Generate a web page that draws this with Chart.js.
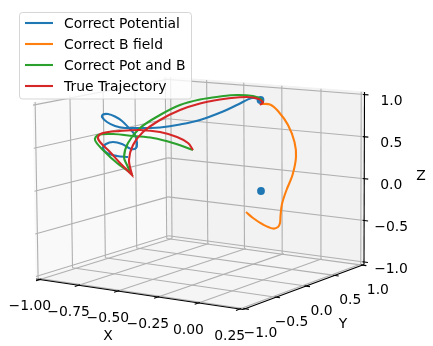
<!DOCTYPE html>
<html>
<head>
<meta charset="utf-8">
<script src="https://cdn.jsdelivr.net/npm/chart.js@4"></script>
<style>
  html, body { margin: 0; padding: 0; background: #fff; }
  canvas { display: block; }
</style>
</head>
<body>
<canvas id="chart" width="433" height="346"></canvas>
<script>
// Curves
var potentialX = [261,252,238,223,200,180,160,148,136,125,115,107,102,103,108,115,122,128,135,137,136,131,122,113,106,103,107,117,128];
var potentialY = [99,98,104.5,111.5,120,124.5,127.5,128,128,128,126,122,117,114.5,114,116.5,121,127,135,143,148,149,144,142,144,148,153,156,157];
var bfieldX = [261,270,278,288,294.5,296,292.5,286.5,282,280.5,280,278,273,263,253,246];
var bfieldY = [104,104.5,111,125,142,157,175,190,204,216,223,227,228.5,224.5,218,212];
var potBX = [263,261,253,237,220,200,180,160,140,128,124,127,131,131,117,103,95,98,113,133,153,173,193];
var potBY = [103,99,96,95,96.5,99.5,105,115,128,143,157,165,173,173,163,150,140,135,134,136,138,143,150];
var trueX = [260,263,253,237,220,200,180,160,143,133,129,132,132,120,110,100,98,103,120,140,160,177,188,193];
var trueY = [105,102,97.5,97.5,99.5,103.5,110,120,132,145,160,175,175,163,152,142,137,133,131,130,132,137,143,150];
var startX = [260.5,261];
var startY = [100,191];

var seriesNames = ['Correct Potential', 'Correct B field', 'Correct Pot and B', 'True Trajectory'];

var xTicks = [-1, -0.75, -0.5, -0.25, 0, 0.25];
var xTickLabels = ['\u22121.00', '\u22120.75', '\u22120.50', '\u22120.25', '0.00', '0.25'];
var yTicks = [-1, -0.5, 0, 0.5, 1];
var yTickLabels = ['\u22121.0', '\u22120.5', '0.0', '0.5', '1.0'];
var zTicks = [-1, -0.5, 0, 0.5, 1];
var zTickLabels = ['\u22121.0', '\u22120.5', '0.0', '0.5', '1.0'];

var BLUE = '#1f77b4', ORANGE = '#ff7f0e', GREEN = '#2ca02c', RED = '#d62728';
var FONT = '13.9px "DejaVu Sans"';
var GRID = '#b0b0b0';

function pts(xs, ys) {
  return xs.map(function (x, i) { return { x: x, y: ys[i] }; });
}

function line(name, xs, ys, color, order) {
  return {
    label: name, data: pts(xs, ys), showLine: true, borderColor: color, borderWidth: 2.1,
    pointRadius: 0, tension: 0.35, fill: false, order: order
  };
}

var xLim = [-1.025, 0.27], yLim = [-1.03, 1.03], zLim = [-1.03, 1.03];

// three box faces as corner quads, perspective kept through a homography
var floorQuad = [[36, 279], [243, 309.5], [364, 264.5], [168.5, 238]];
var leftQuad  = [[36, 279], [168.5, 238], [167, 77], [33, 102.5]];
var backQuad  = [[168.5, 238], [364, 264.5], [364.5, 92], [167, 77]];

function homography(q) {
  var x0 = q[0][0], y0 = q[0][1], x1 = q[1][0], y1 = q[1][1], x2 = q[2][0], y2 = q[2][1], x3 = q[3][0], y3 = q[3][1];
  var dx1 = x1 - x2, dx2 = x3 - x2, dx3 = x0 - x1 + x2 - x3;
  var dy1 = y1 - y2, dy2 = y3 - y2, dy3 = y0 - y1 + y2 - y3;
  var den = dx1 * dy2 - dx2 * dy1;
  var g = (dx3 * dy2 - dx2 * dy3) / den, h = (dx1 * dy3 - dx3 * dy1) / den;
  var a = x1 - x0 + g * x1, b = x3 - x0 + h * x3, d = y1 - y0 + g * y1, e = y3 - y0 + h * y3;
  return function (u, v) {
    var w = g * u + h * v + 1;
    return [(a * u + b * v + x0) / w, (d * u + e * v + y0) / w];
  };
}

function frac(v, lim) { return (v - lim[0]) / (lim[1] - lim[0]); }

var floorAt = homography(floorQuad), leftAt = homography(leftQuad), backAt = homography(backQuad);

var boxPlugin = {
  id: 'box',
  beforeDatasetsDraw: function (chart) {
    var ctx = chart.ctx, sx = chart.scales.x, sy = chart.scales.y;
    function px(p) { return [sx.getPixelForValue(p[0]), sy.getPixelForValue(p[1])]; }
    function seg(a, b, color, width) {
      a = px(a); b = px(b);
      ctx.strokeStyle = color; ctx.lineWidth = width;
      ctx.beginPath(); ctx.moveTo(a[0], a[1]); ctx.lineTo(b[0], b[1]); ctx.stroke();
    }
    function pane(q, color) {
      ctx.fillStyle = color; ctx.strokeStyle = color; ctx.lineWidth = 1;
      ctx.beginPath();
      q.forEach(function (p, i) { p = px(p); if (i) ctx.lineTo(p[0], p[1]); else ctx.moveTo(p[0], p[1]); });
      ctx.closePath(); ctx.fill(); ctx.stroke();
    }
    function label(text, p, dx, dy) {
      p = px(p);
      ctx.fillText(text, p[0] + dx, p[1] + dy + 1);
    }
    // short tick across the axis, along the direction of its gridline
    function tick(p, q) {
      var dx = q[0] - p[0], dy = q[1] - p[1], len = Math.sqrt(dx * dx + dy * dy);
      dx = dx / len; dy = dy / len;
      seg([p[0] - dx * 4, p[1] - dy * 4], [p[0] + dx * 1.5, p[1] + dy * 1.5], '#000', 1.1);
    }

    ctx.save();
    pane(leftQuad, '#f9f9f9');
    pane(backQuad, '#f2f2f2');
    pane(floorQuad, '#f5f5f5');

    xTicks.forEach(function (v) {
      var u = frac(v, xLim);
      seg(floorAt(u, 0), floorAt(u, 1), GRID, 1.1);
      seg(backAt(u, 0), backAt(u, 1), GRID, 1.1);
    });
    yTicks.forEach(function (v) {
      var u = frac(v, yLim);
      seg(floorAt(0, u), floorAt(1, u), GRID, 1.1);
      seg(leftAt(u, 0), leftAt(u, 1), GRID, 1.1);
    });
    zTicks.forEach(function (v) {
      var u = frac(v, zLim);
      seg(leftAt(0, u), leftAt(1, u), GRID, 1.1);
      seg(backAt(0, u), backAt(1, u), GRID, 1.1);
    });

    seg(floorQuad[0], floorQuad[1], '#000', 1.1);
    seg(floorQuad[1], floorQuad[2], '#000', 1.1);
    seg(backQuad[1], backQuad[2], '#000', 1.1);

    ctx.font = FONT;
    ctx.fillStyle = '#000';
    ctx.textAlign = 'center';
    ctx.textBaseline = 'middle';
    xTicks.forEach(function (v, i) {
      var u = frac(v, xLim);
      tick(floorAt(u, 0), floorAt(u, 1));
      label(xTickLabels[i], floorAt(u, 0), -10, 26);
    });
    yTicks.forEach(function (v, i) {
      var u = frac(v, yLim);
      tick(floorAt(1, u), floorAt(0, u));
      label(yTickLabels[i], floorAt(1, u), 15.5, 24);
    });
    zTicks.forEach(function (v, i) {
      var u = frac(v, zLim);
      tick(backAt(1, u), backAt(0, u));
      label(zTickLabels[i], backAt(1, u), 27, 6);
    });
    label('X', [108, 335], 0, 0);
    label('Y', [343, 323], 0, 0);
    label('Z', [421, 175], 0, 0);
    ctx.restore();
  },
  afterDatasetsDraw: function (chart) {
    var ctx = chart.ctx;
    var colors = [BLUE, ORANGE, GREEN, RED];
    ctx.save();
    ctx.beginPath();
    ctx.roundRect(19.5, 12.5, 172, 86.5, 3);
    ctx.fillStyle = 'rgba(255,255,255,0.8)';
    ctx.fill();
    ctx.strokeStyle = 'rgba(204,204,204,0.8)';
    ctx.lineWidth = 1;
    ctx.stroke();
    ctx.font = FONT;
    ctx.fillStyle = '#000';
    ctx.textAlign = 'left';
    ctx.textBaseline = 'middle';
    seriesNames.forEach(function (name, i) {
      var y = 23 + i * 21;
      ctx.strokeStyle = colors[i];
      ctx.lineWidth = 2.1;
      ctx.beginPath(); ctx.moveTo(25, y); ctx.lineTo(53, y); ctx.stroke();
      ctx.fillText(name, 64, y + 1);
    });
    ctx.restore();
  }
};

new Chart(document.getElementById('chart'), {
  type: 'scatter',
  data: {
    datasets: [
      { label: 'start', data: pts(startX, startY), backgroundColor: BLUE, pointRadius: 3.9, pointBorderWidth: 0, order: 6 },
      line(seriesNames[0], potentialX, potentialY, BLUE, 5),
      line(seriesNames[1], bfieldX, bfieldY, ORANGE, 4),
      line(seriesNames[2], potBX, potBY, GREEN, 3),
      line(seriesNames[3], trueX, trueY, RED, 2)
    ]
  },
  options: {
    responsive: false,
    animation: false,
    layout: { padding: 0, autoPadding: false },
    plugins: { legend: { display: false }, tooltip: { enabled: false } },
    scales: {
      x: { display: false, min: 0, max: 433 },
      y: { display: false, min: 0, max: 346, reverse: true }
    }
  },
  plugins: [boxPlugin]
});
</script>
</body>
</html>
